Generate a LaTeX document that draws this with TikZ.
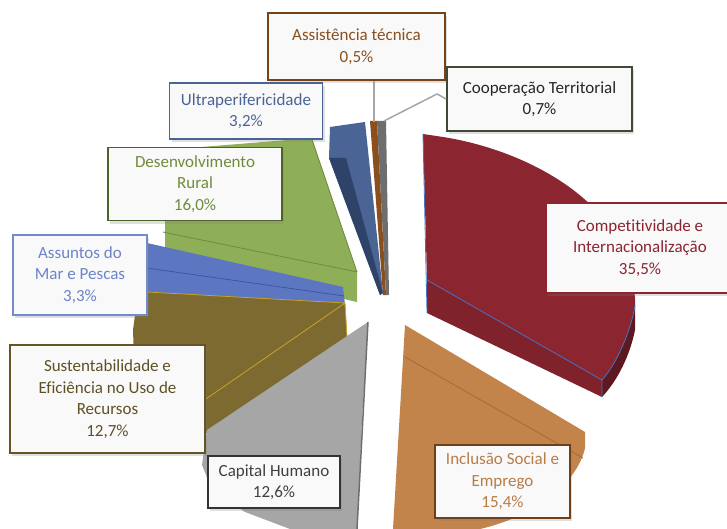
\documentclass[tikz,border=0pt]{standalone}
\usepackage{fontspec}
\setmainfont{Carlito}[RawFeature={-liga;-clig;-calt;-dlig}]
\usepackage{tikz}
\usetikzlibrary{shadows}

\definecolor{cRed}{HTML}{8B2530}
\definecolor{cRedD}{HTML}{5E1820}
\definecolor{cOrange}{HTML}{C2844B}
\definecolor{cOrangeD}{HTML}{A36A36}
\definecolor{cGray}{HTML}{A6A6A6}
\definecolor{cGrayD}{HTML}{6E6E6E}
\definecolor{cOlive}{HTML}{7D6A31}
\definecolor{cOliveL}{HTML}{C9A227}
\definecolor{cMar}{HTML}{5C76C2}
\definecolor{cMarD}{HTML}{3E57A0}
\definecolor{cGreen}{HTML}{8FAE58}
\definecolor{cGreenD}{HTML}{6F8C3C}
\definecolor{cUltra}{HTML}{4A6496}
\definecolor{cUltraD}{HTML}{2F4268}
\definecolor{cBrown}{HTML}{8B4F1E}
\definecolor{cEdge}{HTML}{4472C4}
\definecolor{cCoop}{HTML}{3E4A36}

\begin{document}
\begin{tikzpicture}[x=1pt, y=-1pt,
    lbl/.style={draw, line width=1.6pt, fill=white!95!gray, align=center,
      font=\fontsize{17}{21.5}\selectfont, inner sep=0pt,
      drop shadow={shadow xshift=2pt, shadow yshift=-3pt, opacity=0.25, fill=gray}},
    leader/.style={draw=cGray, line width=1.5pt},  ]

  \useasboundingbox (0,0) rectangle (727,529);

  % slices, back to front
  \fill[cGreen] (165,150) -- (312,138) -- (357,272) -- (357,302) -- (165,258) -- cycle;
  \draw[cGreenD, line width=0.8pt] (163,232) -- (357,272) (312,140) -- (357,272);

  \fill[cMar] (147,243) -- (343,287) -- (345,305) -- (147,293) -- cycle;
  \draw[cMarD, line width=0.8pt] (147,268) -- (344,296);

  \fill[cOlive] (147,292) -- (345,303) -- (347,337) -- (207,433) -- (175,440)
     -- (150,420) -- (135,385) -- (133,330) -- (137,300) -- cycle;
  \draw[cOliveL, line width=0.8pt] (147,292) -- (345,303) -- (347,337) (345,303) -- (200,403);

  \fill[cGray] (368,322) -- (362,420) -- (357,529) -- (290,529) -- (245,512)
     -- (212,490) -- (202,465) -- (207,430) -- cycle;
  \draw[cGrayD, line width=1.5pt] (368,322) -- (357,529);

  \fill[cUltra] (330,127) -- (365,122) -- (383,293) -- (380,295) -- (329,158) -- cycle;
  \fill[cUltraD] (329,158) -- (346,158) -- (383,293) -- (380,295) -- cycle;

  \fill[cBrown] (370,121) -- (377,121) -- (386,295) -- (383,295) -- cycle;
  \fill[cGrayD] (377,121) -- (386,121) -- (389,295) -- (386,295) -- cycle;

  \fill[cRed] (423,134) -- (443,137) .. controls (525,150) and (600,195) .. (620,247)
     .. controls (632,275) and (636,295) .. (635,305)
     .. controls (633,322) and (620,360) .. (602,380) -- (427,280) -- cycle;
  \fill[cRed!92!black] (427,280) -- (602,380) -- (602,397) -- (427,313) -- cycle;
  \fill[cRedD] (602,380) .. controls (620,360) and (633,322) .. (635,305)
     -- (635,330) .. controls (630,355) and (618,380) .. (602,397) -- cycle;
  \draw[cEdge, line width=0.8pt] (423,134) -- (427,313) (427,280) -- (602,380) -- (602,397)
     (602,380) .. controls (620,360) and (633,322) .. (635,305);

  \fill[cOrange] (405,325) -- (585,432) -- (585,448) .. controls (578,480) and (540,515) .. (480,529)
     -- (393,529) -- cycle;
  \draw[cOrangeD, line width=0.8pt] (405,357) -- (583,458);

  % labels
  \node[lbl, draw=cBrown!85!black, text=cBrown, minimum width=177pt, minimum height=67pt]
     (assist) at (356.5,46.5) {Assistência técnica\\0,5\%};
  \node[lbl, draw=cCoop, text=black!85, minimum width=185pt, minimum height=64pt]
     (coop) at (539.5,99) {Cooperação Territorial\\0,7\%};
  \node[lbl, draw=cUltra, text=cUltra, minimum width=153pt, minimum height=56pt]
     (ultra) at (246,111) {Ultraperifericidade\\3,2\%};
  \node[lbl, draw=cGreenD!70!black, text=cGreenD, minimum width=174pt, minimum height=73pt]
     (desenv) at (195,184) {Desenvolvimento\\Rural\\16,0\%};
  \node[lbl, draw=cMar!85, text=cMar!90, minimum width=134pt, minimum height=80pt]
     (mar) at (80,275) {Assuntos do\\Mar e Pescas\\3,3\%};
  \node[lbl, draw=cOlive!80!black, text=cOlive!75!black, minimum width=195pt, minimum height=108pt]
     (sust) at (107.5,399) {Sustentabilidade e\\Eficiência no Uso de\\Recursos\\12,7\%};
  \node[lbl, draw=black!80, text=black!75, minimum width=132pt, minimum height=52pt]
     (capital) at (274,482) {Capital Humano\\12,6\%};
  \node[lbl, draw=cBrown!80!black, text=cOrange!95!black, minimum width=135pt, minimum height=73pt]
     (incl) at (502.5,481.5) {Inclusão Social e\\Emprego\\15,4\%};
  \node[lbl, draw=cRed, text=cRed, minimum width=188pt, minimum height=90pt]
     (compet) at (640,248) {Competitividade e\\Internacionalização\\35,5\%};

  % leader lines
  \coordinate (assist-end) at (374,122);
  \coordinate (coop-bend)  at (437,94);
  \coordinate (coop-end)   at (384,121);
  \draw[leader] (assist.south -| assist-end) -- (assist-end);
  \draw[leader] (coop.west) -- (coop-bend) -- (coop-end);

\end{tikzpicture}
\end{document}
